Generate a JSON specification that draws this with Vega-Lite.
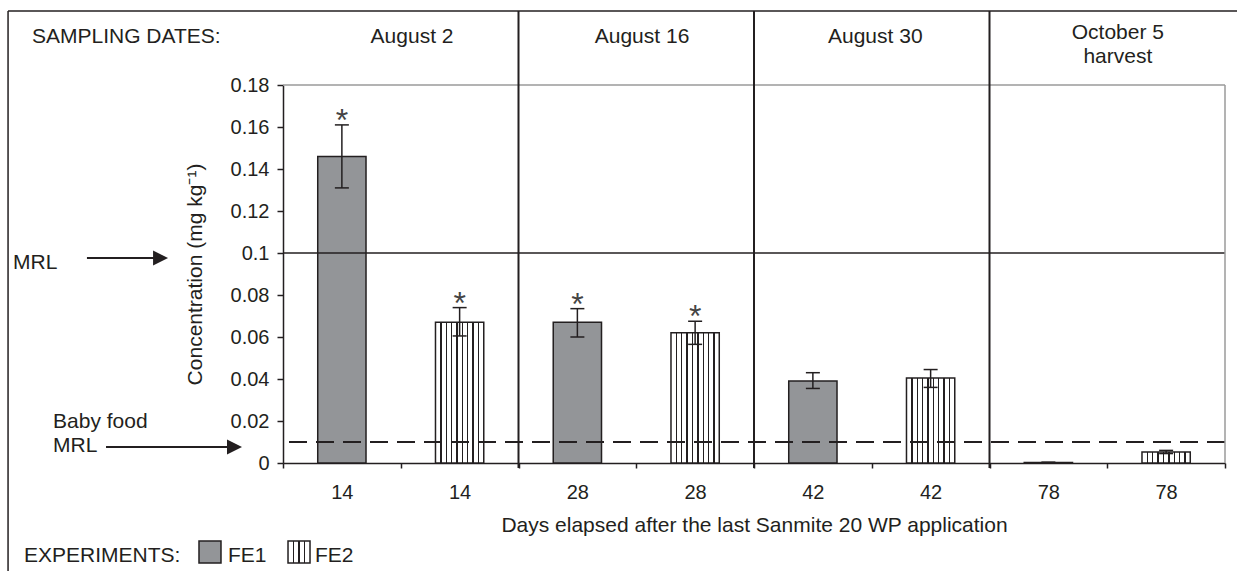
{
  "$schema": "https://vega.github.io/schema/vega-lite/v6.json",
  "width": 942,
  "height": 378,
  "autosize": {"type": "none"},
  "padding": {"left": 283, "top": 85, "right": 12, "bottom": 108},
  "background": "white",
  "datasets": {
    "bars": [
      {"label": "14 FE1", "day": 14, "exp": "FE1", "value": 0.146, "low": 0.131, "high": 0.161, "sig": "*"},
      {"label": "14 FE2", "day": 14, "exp": "FE2", "value": 0.067, "low": 0.0605, "high": 0.074, "sig": "*"},
      {"label": "28 FE1", "day": 28, "exp": "FE1", "value": 0.067, "low": 0.060, "high": 0.0735, "sig": "*"},
      {"label": "28 FE2", "day": 28, "exp": "FE2", "value": 0.062, "low": 0.0565, "high": 0.0675, "sig": "*"},
      {"label": "42 FE1", "day": 42, "exp": "FE1", "value": 0.039, "low": 0.0355, "high": 0.043, "sig": ""},
      {"label": "42 FE2", "day": 42, "exp": "FE2", "value": 0.0405, "low": 0.036, "high": 0.0445, "sig": ""},
      {"label": "78 FE1", "day": 78, "exp": "FE1", "value": 0.0002, "low": 0.0, "high": 0.0004, "sig": ""},
      {"label": "78 FE2", "day": 78, "exp": "FE2", "value": 0.0052, "low": 0.0045, "high": 0.006, "sig": ""}
    ],
    "frame": [
      {"px": -2.335, "px2": -2.335, "py": 0.21524, "py2": -0.06},
      {"px": -2.335, "px2": 8.2, "py": 0.21524, "py2": 0.21524}
    ],
    "dividers": [
      {"px": 2, "px2": 2, "py": 0.21524, "py2": -0.0024},
      {"px": 4, "px2": 4, "py": 0.21524, "py2": -0.0024},
      {"px": 6, "px2": 6, "py": 0.21524, "py2": -0.0024}
    ],
    "arrows": [
      {"px": -1.665, "px2": -1.085, "py": 0.0976, "py2": 0.0976},
      {"px": -1.503, "px2": -0.457, "py": 0.00762, "py2": 0.00762}
    ],
    "heads": [
      {"px": -1.040, "py": 0.0976},
      {"px": -0.412, "py": 0.00762}
    ],
    "headers": [
      {"text": "August 2", "px": 1.096, "py": 0.2},
      {"text": "August 16", "px": 3.049, "py": 0.2},
      {"text": "August 30", "px": 5.03, "py": 0.2},
      {"text": "October 5", "px": 7.09, "py": 0.2019},
      {"text": "harvest", "px": 7.09, "py": 0.1905}
    ],
    "sidetexts": [
      {"text": "SAMPLING DATES:", "px": -2.132, "py": 0.2},
      {"text": "MRL", "px": -2.293, "py": 0.0924},
      {"text": "Baby food", "px": -1.953, "py": 0.0167},
      {"text": "MRL", "px": -1.953, "py": 0.00524},
      {"text": "EXPERIMENTS:", "px": -2.2, "py": -0.0471},
      {"text": "FE1", "px": -0.467, "py": -0.0471},
      {"text": "FE2", "px": 0.272, "py": -0.0471}
    ],
    "swatch1": [{"exp": "FE1", "px": -0.62, "py": -0.0424}],
    "swatch2": [{"exp": "FE2", "px": 0.136, "py": -0.0424}]
  },
  "layer": [
    {
      "data": {"name": "bars"},
      "encoding": {
        "x": {
          "field": "label",
          "type": "nominal",
          "sort": null,
          "scale": {"domain": ["14 FE1", "14 FE2", "28 FE1", "28 FE2", "42 FE1", "42 FE2", "78 FE1", "78 FE2"], "paddingInner": 0, "paddingOuter": 0},
          "axis": {
            "labelExpr": "split(datum.label, ' ')[0]",
            "labelAngle": 0,
            "tickBand": "extent",
            "tickSize": 5,
            "labelPadding": 14,
            "labelFontSize": 20,
            "labelColor": "#231f20",
            "domainColor": "#231f20",
            "domainWidth": 1.5,
            "tickColor": "#231f20",
            "tickWidth": 1.5,
            "grid": false,
            "title": "Days elapsed after the last Sanmite 20 WP application",
            "titleFontSize": 21,
            "titleFontWeight": "normal",
            "titleColor": "#231f20",
            "titlePadding": 12
          }
        }
      },
      "layer": [
        {
          "transform": [{"filter": "datum.exp === 'FE1'"}],
          "mark": {"type": "bar", "fill": "#939598", "stroke": "#231f20", "strokeWidth": 1.5, "width": {"band": 0.41}},
          "encoding": {
            "y": {
              "field": "value",
              "type": "quantitative",
              "scale": {"domain": [0, 0.18], "nice": false},
              "axis": {
                "values": [0, 0.02, 0.04, 0.06, 0.08, 0.1, 0.12, 0.14, 0.16, 0.18],
                "format": "~g",
                "title": "Concentration (mg kg⁻¹)",
                "tickSize": 6,
                "labelPadding": 8,
                "labelFontSize": 20,
                "labelColor": "#231f20",
                "titleFontSize": 21,
                "titleFontWeight": "normal",
                "titleColor": "#231f20",
                "titlePadding": 25,
                "grid": false,
                "domainColor": "#231f20",
                "domainWidth": 1.5,
                "tickColor": "#231f20",
                "tickWidth": 1.5
              }
            }
          }
        },
        {
          "transform": [{"filter": "datum.exp === 'FE2'"}],
          "mark": {
            "type": "bar",
            "stroke": "#231f20",
            "strokeWidth": 1.5,
            "width": {"band": 0.41},
            "fill": {
              "gradient": "linear", "x1": 0, "y1": 0, "x2": 1, "y2": 0,
              "stops": [
                {"offset": 0, "color": "white"}, {"offset": 0.097, "color": "white"},
                {"offset": 0.097, "color": "#231f20"}, {"offset": 0.125, "color": "#231f20"},
                {"offset": 0.125, "color": "white"}, {"offset": 0.208, "color": "white"},
                {"offset": 0.208, "color": "#231f20"}, {"offset": 0.236, "color": "#231f20"},
                {"offset": 0.236, "color": "white"}, {"offset": 0.319, "color": "white"},
                {"offset": 0.319, "color": "#231f20"}, {"offset": 0.347, "color": "#231f20"},
                {"offset": 0.347, "color": "white"}, {"offset": 0.430, "color": "white"},
                {"offset": 0.430, "color": "#231f20"}, {"offset": 0.458, "color": "#231f20"},
                {"offset": 0.458, "color": "white"}, {"offset": 0.542, "color": "white"},
                {"offset": 0.542, "color": "#231f20"}, {"offset": 0.570, "color": "#231f20"},
                {"offset": 0.570, "color": "white"}, {"offset": 0.653, "color": "white"},
                {"offset": 0.653, "color": "#231f20"}, {"offset": 0.681, "color": "#231f20"},
                {"offset": 0.681, "color": "white"}, {"offset": 0.764, "color": "white"},
                {"offset": 0.764, "color": "#231f20"}, {"offset": 0.792, "color": "#231f20"},
                {"offset": 0.792, "color": "white"}, {"offset": 0.875, "color": "white"},
                {"offset": 0.875, "color": "#231f20"}, {"offset": 0.903, "color": "#231f20"},
                {"offset": 0.903, "color": "white"}, {"offset": 1, "color": "white"}
              ]
            }
          },
          "encoding": {
            "y": {"field": "value", "type": "quantitative", "scale": {"domain": [0, 0.18], "nice": false}, "axis": null}
          }
        },
        {
          "mark": {"type": "rule", "color": "#231f20", "strokeWidth": 1.5},
          "encoding": {
            "y": {"field": "low", "type": "quantitative", "scale": {"domain": [0, 0.18], "nice": false}, "axis": null},
            "y2": {"field": "high"}
          }
        },
        {
          "mark": {"type": "tick", "color": "#231f20", "size": 14, "thickness": 1.5, "opacity": 1},
          "encoding": {
            "y": {"field": "low", "type": "quantitative", "scale": {"domain": [0, 0.18], "nice": false}, "axis": null}
          }
        },
        {
          "mark": {"type": "tick", "color": "#231f20", "size": 14, "thickness": 1.5, "opacity": 1},
          "encoding": {
            "y": {"field": "high", "type": "quantitative", "scale": {"domain": [0, 0.18], "nice": false}, "axis": null}
          }
        },
        {
          "mark": {"type": "text", "fontSize": 32, "font": "Liberation Sans", "color": "#444444", "baseline": "alphabetic", "align": "center", "dy": 6},
          "encoding": {
            "y": {"field": "high", "type": "quantitative", "scale": {"domain": [0, 0.18], "nice": false}, "axis": null},
            "text": {"field": "sig"}
          }
        }
      ],
      "resolve": {"axis": {"y": "independent"}}
    },
    {
      "layer": [
        {
          "data": {"values": [{}]},
          "mark": {"type": "rule", "color": "#231f20", "strokeWidth": 1.5},
          "encoding": {"y": {"datum": 0.1, "type": "quantitative", "scale": {"domain": [0, 0.18], "nice": false}, "axis": null}}
        },
        {
          "data": {"values": [{}]},
          "mark": {"type": "rule", "color": "#231f20", "strokeWidth": 2, "strokeDash": [18, 9]},
          "encoding": {"y": {"datum": 0.01, "type": "quantitative", "scale": {"domain": [0, 0.18], "nice": false}, "axis": null}}
        },
        {
          "data": {"values": [{}]},
          "mark": {"type": "rule", "color": "#9a9a9a", "strokeWidth": 1.5},
          "encoding": {"y": {"datum": 0.18, "type": "quantitative", "scale": {"domain": [0, 0.18], "nice": false}, "axis": null}}
        },
        {
          "data": {"values": [{}]},
          "mark": {"type": "rule", "color": "#9a9a9a", "strokeWidth": 1.5},
          "encoding": {
            "x": {"datum": 8, "type": "quantitative", "scale": {"domain": [0, 8], "nice": false, "zero": false}, "axis": null},
            "y": {"datum": 0, "type": "quantitative", "scale": {"domain": [0, 0.18], "nice": false}, "axis": null},
            "y2": {"datum": 0.18}
          }
        },
        {
          "data": {"name": "frame"},
          "mark": {"type": "rule", "color": "#231f20", "strokeWidth": 1.5},
          "encoding": {
            "x": {"field": "px", "type": "quantitative", "scale": {"domain": [0, 8], "nice": false, "zero": false}, "axis": null},
            "x2": {"field": "px2"},
            "y": {"field": "py", "type": "quantitative", "scale": {"domain": [0, 0.18], "nice": false}, "axis": null},
            "y2": {"field": "py2"}
          }
        },
        {
          "data": {"name": "dividers"},
          "mark": {"type": "rule", "color": "#231f20", "strokeWidth": 2},
          "encoding": {
            "x": {"field": "px", "type": "quantitative", "scale": {"domain": [0, 8], "nice": false, "zero": false}, "axis": null},
            "x2": {"field": "px2"},
            "y": {"field": "py", "type": "quantitative", "scale": {"domain": [0, 0.18], "nice": false}, "axis": null},
            "y2": {"field": "py2"}
          }
        },
        {
          "data": {"name": "arrows"},
          "mark": {"type": "rule", "color": "#231f20", "strokeWidth": 2},
          "encoding": {
            "x": {"field": "px", "type": "quantitative", "scale": {"domain": [0, 8], "nice": false, "zero": false}, "axis": null},
            "x2": {"field": "px2"},
            "y": {"field": "py", "type": "quantitative", "scale": {"domain": [0, 0.18], "nice": false}, "axis": null},
            "y2": {"field": "py2"}
          }
        },
        {
          "data": {"name": "heads"},
          "mark": {"type": "point", "shape": "M-1,-1L1,0L-1,1Z", "size": 225, "filled": true, "color": "#231f20", "opacity": 1},
          "encoding": {
            "x": {"field": "px", "type": "quantitative", "scale": {"domain": [0, 8], "nice": false, "zero": false}, "axis": null},
            "y": {"field": "py", "type": "quantitative", "scale": {"domain": [0, 0.18], "nice": false}, "axis": null}
          }
        },
        {
          "data": {"name": "headers"},
          "mark": {"type": "text", "align": "center", "baseline": "alphabetic", "fontSize": 21, "font": "Liberation Sans", "color": "#231f20"},
          "encoding": {
            "x": {"field": "px", "type": "quantitative", "scale": {"domain": [0, 8], "nice": false, "zero": false}, "axis": null},
            "y": {"field": "py", "type": "quantitative", "scale": {"domain": [0, 0.18], "nice": false}, "axis": null},
            "text": {"field": "text"}
          }
        },
        {
          "data": {"name": "sidetexts"},
          "mark": {"type": "text", "align": "left", "baseline": "alphabetic", "fontSize": 21, "font": "Liberation Sans", "color": "#231f20"},
          "encoding": {
            "x": {"field": "px", "type": "quantitative", "scale": {"domain": [0, 8], "nice": false, "zero": false}, "axis": null},
            "y": {"field": "py", "type": "quantitative", "scale": {"domain": [0, 0.18], "nice": false}, "axis": null},
            "text": {"field": "text"}
          }
        },
        {
          "data": {"name": "swatch1"},
          "mark": {"type": "point", "shape": "square", "size": 484, "filled": true, "fill": "#939598", "stroke": "#231f20", "strokeWidth": 1.5, "opacity": 1},
          "encoding": {
            "x": {"field": "px", "type": "quantitative", "scale": {"domain": [0, 8], "nice": false, "zero": false}, "axis": null},
            "y": {"field": "py", "type": "quantitative", "scale": {"domain": [0, 0.18], "nice": false}, "axis": null}
          }
        },
        {
          "data": {"name": "swatch2"},
          "mark": {
            "type": "point", "shape": "square", "size": 484, "filled": true, "stroke": "#231f20", "strokeWidth": 1.5, "opacity": 1,
            "fill": {
              "gradient": "linear", "x1": 0, "y1": 0, "x2": 1, "y2": 0,
              "stops": [
                {"offset": 0, "color": "white"}, {"offset": 0.22, "color": "white"},
                {"offset": 0.22, "color": "#231f20"}, {"offset": 0.28, "color": "#231f20"},
                {"offset": 0.28, "color": "white"}, {"offset": 0.47, "color": "white"},
                {"offset": 0.47, "color": "#231f20"}, {"offset": 0.53, "color": "#231f20"},
                {"offset": 0.53, "color": "white"}, {"offset": 0.72, "color": "white"},
                {"offset": 0.72, "color": "#231f20"}, {"offset": 0.78, "color": "#231f20"},
                {"offset": 0.78, "color": "white"}, {"offset": 1, "color": "white"}
              ]
            }
          },
          "encoding": {
            "x": {"field": "px", "type": "quantitative", "scale": {"domain": [0, 8], "nice": false, "zero": false}, "axis": null},
            "y": {"field": "py", "type": "quantitative", "scale": {"domain": [0, 0.18], "nice": false}, "axis": null}
          }
        }
      ]
    }
  ],
  "resolve": {"scale": {"x": "independent"}, "axis": {"y": "independent"}},
  "config": {
    "view": {"stroke": null},
    "font": "Liberation Sans"
  }
}
